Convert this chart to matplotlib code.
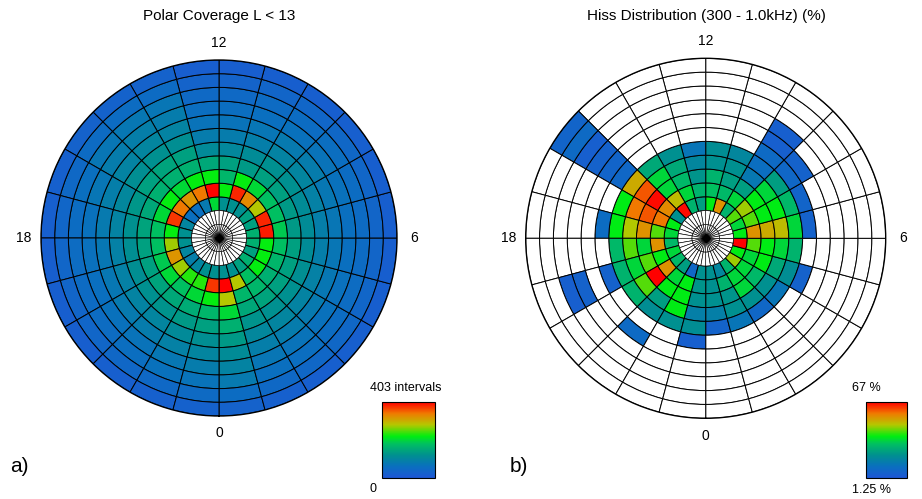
import numpy as np
import matplotlib
matplotlib.use("Agg")
import matplotlib.pyplot as plt
from matplotlib.colors import LinearSegmentedColormap, Normalize
from matplotlib.colorbar import ColorbarBase

plt.rcParams['font.family'] = ['Liberation Sans', 'DejaVu Sans']

# MLT hour bins (0..24) and L-shell bins (2..13)
mlt_edges = np.arange(0, 25)
l_edges = np.arange(2, 14)

# number of intervals per (L, MLT) bin; rows are L = 2-3 ... 12-13, columns MLT 0..23
coverage = np.array([
    [121, 121, 141, 161, 141, 161, 161, 141, 141, 121, 121, 121, 202, 81, 60, 60, 101, 121, 121, 101, 89, 101, 121, 121],
    [403, 282, 181, 222, 222, 222, 390, 383, 282, 330, 383, 222, 400, 343, 322, 343, 375, 222, 274, 322, 274, 234, 234, 375],
    [282, 170, 170, 160, 170, 181, 190, 181, 181, 202, 222, 170, 222, 222, 202, 222, 202, 181, 181, 190, 202, 181, 202, 222],
    [202, 150, 145, 141, 141, 141, 133, 133, 141, 141, 133, 141, 150, 161, 161, 161, 150, 145, 141, 141, 145, 150, 155, 170],
    [161, 125, 121, 121, 117, 113, 113, 113, 121, 121, 113, 105, 109, 141, 145, 141, 129, 121, 117, 117, 121, 125, 133, 141],
    [133, 105, 101, 97, 93, 89, 89, 93, 101, 97, 89, 85, 85, 117, 121, 117, 105, 97, 93, 93, 97, 101, 109, 117],
    [113, 89, 85, 81, 77, 73, 73, 77, 85, 81, 73, 69, 69, 97, 101, 97, 89, 81, 77, 77, 81, 85, 93, 101],
    [97, 73, 69, 65, 63, 61, 61, 65, 69, 65, 61, 57, 57, 85, 89, 85, 73, 65, 63, 61, 65, 69, 77, 85],
    [81, 61, 57, 55, 53, 51, 51, 55, 57, 55, 51, 47, 47, 73, 77, 73, 61, 55, 53, 51, 53, 57, 65, 69],
    [55, 45, 41, 41, 39, 37, 37, 39, 41, 39, 37, 33, 33, 51, 55, 51, 45, 39, 39, 37, 39, 41, 45, 49],
    [29, 25, 23, 23, 21, 21, 21, 21, 23, 21, 21, 19, 19, 29, 31, 29, 25, 23, 21, 21, 21, 23, 25, 27],
])
coverage_max = 403

# hiss occurrence (%) per bin, nan where there is no data
n = np.nan
hiss = np.array([
    [21, 18, 28, 46, 37, 67, 37, 34, 42, 28, 54, 37, 24, 28, 66, 21, 37, 34, 29, 34, 29, 24, 8, 21],
    [21, 28, 34, 34, 34, 42, 54, 42, 46, 34, 29, 31, 28, 34, 49, 55, 57, 42, 54, 37, 54, 34, 37, 22],
    [21, 22, 34, 29, 37, 37, 51, 37, 37, 24, 24, 28, 22, 29, 34, 66, 60, 54, 34, 42, 67, 37, 37, 21],
    [16, 21, 21, 21, 26, 34, 49, 37, 34, 14, 21, 21, 18, 26, 34, 60, 57, 47, 42, 34, 42, 24, 37, 16],
    [6.5, 13, 8, 13, 20, 28, 34, 29, 24, 11, 18, 20, 13, 21, 26, 51, 37, 37, 29, 28, 28, 20, 21, 20],
    [n, n, n, n, 6, n, 6, 7, 8, 9, n, n, n, n, n, 8, n, 10, n, 6, n, n, n, 5],
    [n, n, n, n, n, n, n, n, 6, 5, n, n, n, n, n, 7, n, n, n, n, n, 9, n, n],
    [n, n, n, n, n, n, n, n, n, 5, n, n, n, n, n, 6, n, n, n, 6, n, n, n, n],
    [n, n, n, n, n, n, n, n, n, n, n, n, n, n, n, 5, n, n, n, 5, n, n, n, n],
    [n, n, n, n, n, n, n, n, n, n, n, n, n, n, n, 9, n, n, n, n, n, n, n, n],
    [n, n, n, n, n, n, n, n, n, n, n, n, n, n, n, 7, n, n, n, n, n, n, n, n],
])
hiss_min, hiss_max = 1.25, 67

cmap = LinearSegmentedColormap.from_list("bgr", [
    (0.00, "#1e56d6"),
    (0.15, "#0a6fbf"),
    (0.30, "#00908f"),
    (0.45, "#00c060"),
    (0.55, "#00ee10"),
    (0.70, "#b4c800"),
    (0.85, "#f07a00"),
    (1.00, "#ff0000"),
])


def mlt_to_theta(h):
    return np.asarray(h) * 2 * np.pi / 24


def polar_panel(ax, data, norm):
    width = mlt_to_theta(1)
    centers = mlt_to_theta(mlt_edges[:-1] + 0.5)
    for i, lo in enumerate(l_edges[:-1]):
        vals = data[i]
        colors = [cmap(norm(v)) if np.isfinite(v) else "white" for v in vals]
        ax.bar(centers, 1, width=width, bottom=lo, color=colors,
               edgecolor="black", linewidth=0.7, align="center")
    # inner L < 2 region: finer white grid
    inner = np.linspace(0, 2 * np.pi, 37)[:-1]
    for lo in (0, 1):
        ax.bar(inner + np.pi / 36, 1, width=2 * np.pi / 36, bottom=lo,
               color="white", edgecolor="black", linewidth=0.45)
    ax.plot([0], [0], marker="D", color="black", markersize=4)
    ax.set_theta_zero_location("S")
    ax.set_theta_direction(1)
    ax.set_ylim(0, 13)
    ax.set_yticks([])
    ax.set_xticks(mlt_to_theta([0, 6, 12, 18]))
    ax.set_xticklabels(["0", "6", "12", "18"], fontsize=10)
    ax.tick_params(axis="x", pad=2)
    ax.grid(False)
    ax.spines["polar"].set_linewidth(1.0)


fig = plt.figure(figsize=(9.22, 4.99), dpi=100)

ax1 = fig.add_axes([41 / 922, 1 - 416 / 499, 356 / 922, 356 / 499], projection="polar")
polar_panel(ax1, coverage, Normalize(0, coverage_max))
ax2 = fig.add_axes([525.7 / 922, 1 - 418.3 / 499, 360 / 922, 360 / 499], projection="polar")
polar_panel(ax2, hiss, Normalize(hiss_min, hiss_max))

fig.text(219 / 922, 1 - 16 / 499, "Polar Coverage L < 13", ha="center", va="center", fontsize=11)
fig.text(706 / 922, 1 - 16 / 499, "Hiss Distribution (300 - 1.0kHz) (%)", ha="center", va="center", fontsize=11)

# colour bars
cax1 = fig.add_axes([382 / 922, 1 - 478 / 499, 53 / 922, 76 / 499])
ColorbarBase(cax1, cmap=cmap, norm=Normalize(0, coverage_max), ticks=[])
fig.text(406 / 922, 1 - 388 / 499, f"{coverage_max} intervals", ha="center", va="center", fontsize=9)
fig.text(373 / 922, 1 - 489 / 499, "0", ha="center", va="center", fontsize=9)

cax2 = fig.add_axes([866 / 922, 1 - 478 / 499, 41 / 922, 76 / 499])
ColorbarBase(cax2, cmap=cmap, norm=Normalize(hiss_min, hiss_max), ticks=[])
fig.text(866 / 922, 1 - 388 / 499, f"{hiss_max:g} %", ha="center", va="center", fontsize=9)
fig.text(871 / 922, 1 - 490 / 499, f"{hiss_min:g} %", ha="center", va="center", fontsize=9)

fig.text(10 / 922, 1 - 466 / 499, "a)", ha="left", va="center", fontsize=15)
fig.text(510 / 922, 1 - 466 / 499, "b)", ha="left", va="center", fontsize=15)

fig.savefig("out.png", dpi=100)
